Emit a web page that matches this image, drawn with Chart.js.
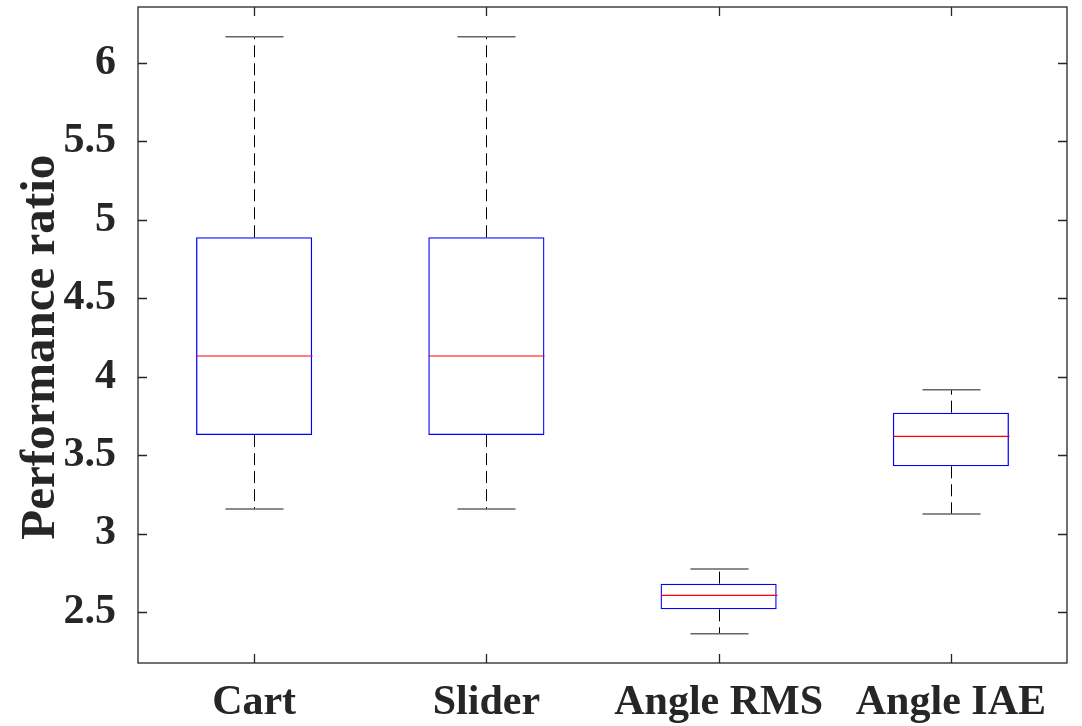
<!DOCTYPE html>
<html>
<head>
<meta charset="utf-8">
<script src="https://cdn.jsdelivr.net/npm/chart.js@4/dist/chart.umd.min.js"></script>
<style>
  html, body { margin: 0; padding: 0; background: #fff; }
  #wrap { width: 1082px; height: 726px; }
</style>
</head>
<body>
<div id="wrap"><canvas id="boxChart" width="1082" height="726"></canvas></div>
<script>
// === data ===
const categories = ["Cart", "Slider", "Angle RMS", "Angle IAE"];
const whiskerLow = [3.157, 3.157, 2.362, 3.125];
const q1 = [3.628, 3.628, 2.517, 3.429];
const median = [4.132, 4.132, 2.606, 3.620];
const q3 = [4.889, 4.889, 2.681, 3.771];
const whiskerHigh = [6.168, 6.168, 2.774, 3.917];
const yTicks = [2.5, 3, 3.5, 4, 4.5, 5, 5.5, 6];

const textColor = "#262626";
const fontFamily = "'Liberation Serif', 'Times New Roman', serif";

// whiskers, caps, medians, frame and inward ticks drawn through the chart scales
const boxExtras = {
  id: "boxExtras",
  afterDatasetsDraw(chart) {
    const { ctx, chartArea, scales } = chart;
    const x = scales.x, y = scales.y;
    const step = x.getPixelForValue(1) - x.getPixelForValue(0);
    const boxHalf = step * 0.25;
    const capHalf = step * 0.125;

    ctx.save();
    categories.forEach((c, i) => {
      const cx = Math.round(x.getPixelForValue(i)) + 0.5;

      // dashed whiskers
      ctx.strokeStyle = "#000";
      ctx.lineWidth = 1;
      ctx.setLineDash([12, 6]);
      ctx.beginPath();
      ctx.moveTo(cx, y.getPixelForValue(q3[i]));
      ctx.lineTo(cx, y.getPixelForValue(whiskerHigh[i]));
      ctx.moveTo(cx, y.getPixelForValue(q1[i]));
      ctx.lineTo(cx, y.getPixelForValue(whiskerLow[i]));
      ctx.stroke();
      ctx.setLineDash([]);

      // caps
      ctx.strokeStyle = "#666";
      ctx.lineWidth = 1.5;
      ctx.beginPath();
      [whiskerHigh[i], whiskerLow[i]].forEach(v => {
        const py = y.getPixelForValue(v);
        ctx.moveTo(cx - capHalf, py);
        ctx.lineTo(cx + capHalf, py);
      });
      ctx.stroke();

      // median
      ctx.strokeStyle = "#ff0000";
      ctx.lineWidth = 1.2;
      ctx.beginPath();
      const my = y.getPixelForValue(median[i]);
      ctx.moveTo(cx - boxHalf, my);
      ctx.lineTo(cx + boxHalf, my);
      ctx.stroke();
    });

    // frame
    const { left, right, top, bottom } = chartArea;
    ctx.strokeStyle = textColor;
    ctx.lineWidth = 1.3;
    ctx.strokeRect(left, top, right - left, bottom - top);

    // inward ticks on all four sides
    const tl = 9;
    ctx.beginPath();
    yTicks.forEach(v => {
      const py = Math.round(y.getPixelForValue(v)) + 0.5;
      ctx.moveTo(left, py); ctx.lineTo(left + tl, py);
      ctx.moveTo(right, py); ctx.lineTo(right - tl, py);
    });
    categories.forEach((c, i) => {
      const px = Math.round(x.getPixelForValue(i)) + 0.5;
      ctx.moveTo(px, bottom); ctx.lineTo(px, bottom - tl);
      ctx.moveTo(px, top); ctx.lineTo(px, top + tl);
    });
    ctx.stroke();
    ctx.restore();
  }
};

new Chart(document.getElementById("boxChart").getContext("2d"), {
  type: "bar",
  data: {
    labels: categories,
    datasets: [
      {
        label: "IQR",
        data: categories.map((c, i) => [q1[i], q3[i]]),
        backgroundColor: "rgba(255,255,255,0)",
        borderColor: "#0000ff",
        borderWidth: 1.3,
        borderSkipped: false,
        barPercentage: 0.5,
        categoryPercentage: 1,
      },
    ],
  },
  options: {
    responsive: false,
    animation: false,
    events: [],
    layout: { padding: { top: 7, right: 15, left: 0, bottom: 0 } },
    plugins: {
      legend: { display: false },
      tooltip: { enabled: false },
    },
    scales: {
      x: {
        grid: { display: false },
        border: { display: false },
        ticks: {
          color: textColor,
          padding: 7,
          font: { family: fontFamily, size: 42, weight: "bold" },
        },
        afterFit(scale) {
          scale.height = 63;
          scale.paddingLeft = 0;
          scale.paddingRight = 0;
        },
      },
      y: {
        min: 2.175,
        max: 6.357,
        grid: { display: false },
        border: { display: false },
        afterBuildTicks(scale) { scale.ticks = yTicks.map(v => ({ value: v })); },
        ticks: {
          color: textColor,
          padding: 14,
          font: { family: fontFamily, size: 42, weight: "bold" },
          callback: v => String(v),
        },
        title: {
          display: true,
          text: "Performance ratio  ",
          color: textColor,
          padding: { top: 12, bottom: 0 },
          font: { family: fontFamily, size: 49, weight: "bold" },
        },
        afterFit(scale) {
          scale.width = 138;
          scale.paddingTop = 0;
          scale.paddingBottom = 0;
        },
      },
    },
  },
  plugins: [boxExtras],
});
</script>
</body>
</html>
